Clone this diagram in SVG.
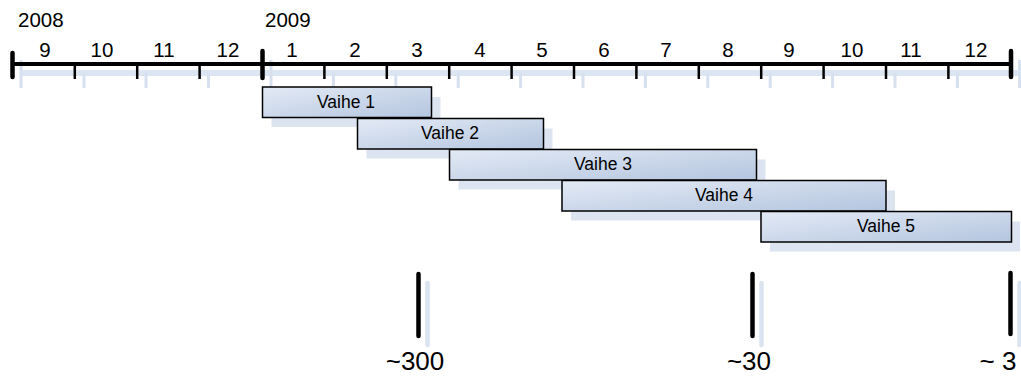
<svg xmlns="http://www.w3.org/2000/svg" width="1021" height="376" viewBox="0 0 1021 376">
<defs>
<linearGradient id="barGrad" x1="0" y1="0" x2="1" y2="1">
<stop offset="0" stop-color="#e3eaf5"/>
<stop offset="1" stop-color="#b4c5df"/>
</linearGradient>
<style>
text{font-family:"Liberation Sans",Arial,sans-serif;fill:#000}
.yr{font-size:20.5px}
.mo{font-size:20.5px;text-anchor:middle}
.bt{font-size:17.5px;text-anchor:middle}
.big{font-size:26px;text-anchor:middle}
.ax{stroke:#000;stroke-width:4}
.axs{stroke:#dce5f2;stroke-width:6}
.tk{stroke:#000;stroke-width:2.5}
.tks{stroke:#d6e0ee;stroke-width:3}
.bar{fill:url(#barGrad);stroke:#000;stroke-width:1.5}
.sh{fill:#dce4f1}
.mk{stroke:#000;stroke-width:4.5;stroke-linecap:round}
.mks{stroke:#dae3f0;stroke-width:4.5;stroke-linecap:round}
</style>
</defs>
<g id="timeline">
<line class="axs" x1="21" y1="73" x2="1020" y2="73"/>
<g class="tks">
<line x1="21" y1="60" x2="21" y2="88"/>
<line x1="84" y1="73" x2="84" y2="88"/>
<line x1="146" y1="73" x2="146" y2="88"/>
<line x1="208.5" y1="73" x2="208.5" y2="88"/>
<line x1="271" y1="60" x2="271" y2="88"/>
<line x1="333.4" y1="73" x2="333.4" y2="88"/>
<line x1="395.8" y1="73" x2="395.8" y2="88"/>
<line x1="458.2" y1="73" x2="458.2" y2="88"/>
<line x1="520.6" y1="73" x2="520.6" y2="88"/>
<line x1="583" y1="73" x2="583" y2="88"/>
<line x1="645.4" y1="73" x2="645.4" y2="88"/>
<line x1="707.8" y1="73" x2="707.8" y2="88"/>
<line x1="770.2" y1="73" x2="770.2" y2="88"/>
<line x1="832.6" y1="73" x2="832.6" y2="88"/>
<line x1="895" y1="73" x2="895" y2="88"/>
<line x1="957.4" y1="73" x2="957.4" y2="88"/>
<line x1="1019.5" y1="60" x2="1019.5" y2="88"/>
</g>
<line class="ax" x1="12" y1="64" x2="1011" y2="64"/>
<g class="tk">
<line x1="74.8" y1="64" x2="74.8" y2="79"/>
<line x1="137.2" y1="64" x2="137.2" y2="79"/>
<line x1="199.6" y1="64" x2="199.6" y2="79"/>
<line x1="324.4" y1="64" x2="324.4" y2="79"/>
<line x1="386.8" y1="64" x2="386.8" y2="79"/>
<line x1="449.2" y1="64" x2="449.2" y2="79"/>
<line x1="511.6" y1="64" x2="511.6" y2="79"/>
<line x1="574" y1="64" x2="574" y2="79"/>
<line x1="636.4" y1="64" x2="636.4" y2="79"/>
<line x1="698.8" y1="64" x2="698.8" y2="79"/>
<line x1="761.2" y1="64" x2="761.2" y2="79"/>
<line x1="823.6" y1="64" x2="823.6" y2="79"/>
<line x1="886" y1="64" x2="886" y2="79"/>
<line x1="948.4" y1="64" x2="948.4" y2="79"/>
</g>
<line class="mk" x1="12.5" y1="53" x2="12.5" y2="77"/>
<line class="mk" x1="262.5" y1="51" x2="262.5" y2="78"/>
<line class="mk" x1="1011" y1="51" x2="1011" y2="77"/>
<text class="yr" x="18" y="27">2008</text>
<text class="yr" x="265" y="27">2009</text>
<text class="mo" x="45" y="57">9</text>
<text class="mo" x="102" y="57">10</text>
<text class="mo" x="164" y="57">11</text>
<text class="mo" x="228" y="57">12</text>
<text class="mo" x="292" y="57">1</text>
<text class="mo" x="355" y="57">2</text>
<text class="mo" x="417" y="57">3</text>
<text class="mo" x="480" y="57">4</text>
<text class="mo" x="542" y="57">5</text>
<text class="mo" x="604" y="57">6</text>
<text class="mo" x="666" y="57">7</text>
<text class="mo" x="728" y="57">8</text>
<text class="mo" x="789" y="57">9</text>
<text class="mo" x="852" y="57">10</text>
<text class="mo" x="911" y="57">11</text>
<text class="mo" x="976" y="57">12</text>
</g>
<g id="vaihe1">
<rect class="sh" x="271.5" y="97" width="169" height="30"/>
</g>
<g id="vaihe2">
<rect class="sh" x="366.5" y="128.5" width="186" height="30"/>
</g>
<g id="vaihe3">
<rect class="sh" x="458.5" y="159.5" width="307" height="30"/>
</g>
<g id="vaihe4">
<rect class="sh" x="571" y="190.5" width="324" height="30"/>
</g>
<g id="vaihe5">
<rect class="sh" x="770" y="221.5" width="250" height="30"/>
</g>
<g id="vaihe1-bar">
<rect class="bar" x="262.5" y="87" width="169" height="30.5"/>
<text class="bt" x="346" y="108">Vaihe 1</text>
</g>
<g id="vaihe2-bar">
<rect class="bar" x="357.5" y="118.5" width="186" height="30.5"/>
<text class="bt" x="450" y="139">Vaihe 2</text>
</g>
<g id="vaihe3-bar">
<rect class="bar" x="449.5" y="149.5" width="307" height="30.5"/>
<text class="bt" x="603" y="170">Vaihe 3</text>
</g>
<g id="vaihe4-bar">
<rect class="bar" x="562" y="180.5" width="324" height="30.5"/>
<text class="bt" x="724" y="201">Vaihe 4</text>
</g>
<g id="vaihe5-bar">
<rect class="bar" x="761" y="211.5" width="250.5" height="30.5"/>
<text class="bt" x="886" y="232">Vaihe 5</text>
</g>
<g id="marker300">
<line class="mks" x1="427.5" y1="283" x2="427.5" y2="345"/>
<line class="mk" x1="418.5" y1="274" x2="418.5" y2="336"/>
<text class="big" x="415" y="370">~300</text>
</g>
<g id="marker30">
<line class="mks" x1="761.5" y1="283" x2="761.5" y2="345"/>
<line class="mk" x1="752.5" y1="274" x2="752.5" y2="336"/>
<text class="big" x="749" y="370">~30</text>
</g>
<g id="marker3">
<line class="mks" x1="1019.5" y1="283" x2="1019.5" y2="345"/>
<line class="mk" x1="1010.5" y1="273" x2="1010.5" y2="334"/>
<text class="big" x="998" y="370">~ 3</text>
</g>
</svg>
